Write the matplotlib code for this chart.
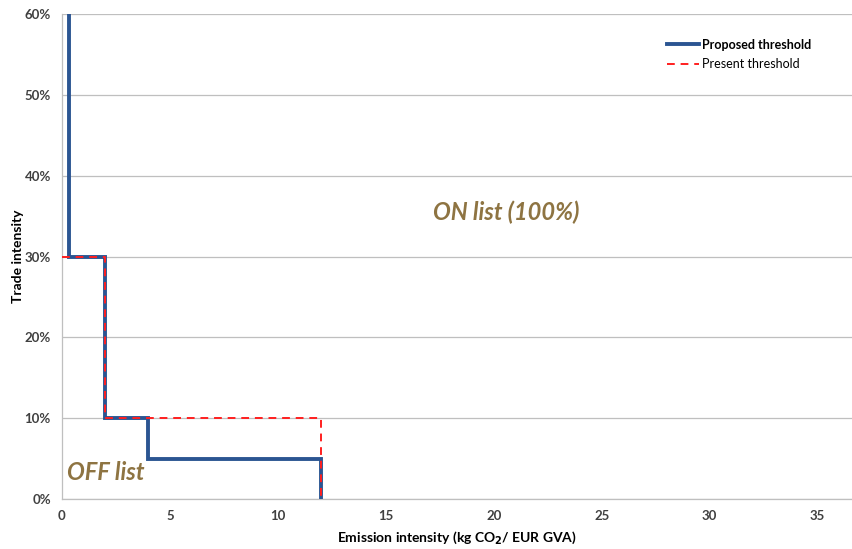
import matplotlib.pyplot as plt
from matplotlib.ticker import FuncFormatter

plt.rcParams['font.family'] = ['Lato', 'DejaVu Sans']

# proposed threshold (step outline)
proposed_x = [0.33, 0.33, 2, 2, 4, 4, 12, 12]
proposed_y = [0.60, 0.30, 0.30, 0.10, 0.10, 0.05, 0.05, 0.0]

# present threshold
present_x = [0, 2, 2, 12, 12]
present_y = [0.30, 0.30, 0.10, 0.10, 0.0]

x_ticks = [0, 5, 10, 15, 20, 25, 30, 35]
y_ticks = [0, 0.1, 0.2, 0.3, 0.4, 0.5, 0.6]

fig = plt.figure(figsize=(8.52, 5.49), dpi=100)
ax = fig.add_axes([62 / 852, 50 / 549, 790 / 852, 485 / 549])

ax.plot(proposed_x, proposed_y, color='#2B5592', lw=2.8, label='Proposed threshold',
        solid_joinstyle='miter', zorder=3)
ax.plot(present_x, present_y, color='#FF1F1F', lw=1.4, ls=(0, (4, 3)), label='Present threshold',
        zorder=4)

ax.set_xlim(0, 36.6)
ax.set_ylim(0, 0.6)
ax.set_xticks(x_ticks)
ax.set_yticks(y_ticks)
ax.yaxis.set_major_formatter(FuncFormatter(lambda v, p: f'{v * 100:.0f}%'))

ax.grid(axis='y', color='#BFBFBF', lw=0.9)
ax.set_axisbelow(True)
for s in ['top', 'right']:
    ax.spines[s].set_visible(False)
for s in ['left', 'bottom']:
    ax.spines[s].set_color('#BFBFBF')
    ax.spines[s].set_linewidth(0.9)
ax.tick_params(length=0, labelsize=9.5, colors='#404040', pad=8)
for lab in ax.get_xticklabels() + ax.get_yticklabels():
    lab.set_fontweight('bold')

ax.set_xlabel(r'Emission intensity (kg CO$_\mathbf{2}$/ EUR GVA)', fontsize=10,
              fontweight='bold', color='black', labelpad=5)
ax.set_ylabel('Trade intensity', fontsize=10, fontweight='bold', color='black')
ax.yaxis.set_label_coords(-0.048, 0.5)

ax.text(17.2, 0.355, 'ON list (100%)', fontsize=17, fontstyle='italic', fontweight='bold',
        color='#8E7442', va='center')
ax.text(0.25, 0.033, 'OFF list', fontsize=17, fontstyle='italic', fontweight='bold',
        color='#8E7442', va='center')

leg = ax.legend(loc='upper right', bbox_to_anchor=(0.963, 0.972), frameon=False, fontsize=9,
                handlelength=2.6, handletextpad=0.25, labelspacing=0.6)
leg.get_texts()[0].set_fontweight('bold')

fig.savefig('out.png', dpi=100)
